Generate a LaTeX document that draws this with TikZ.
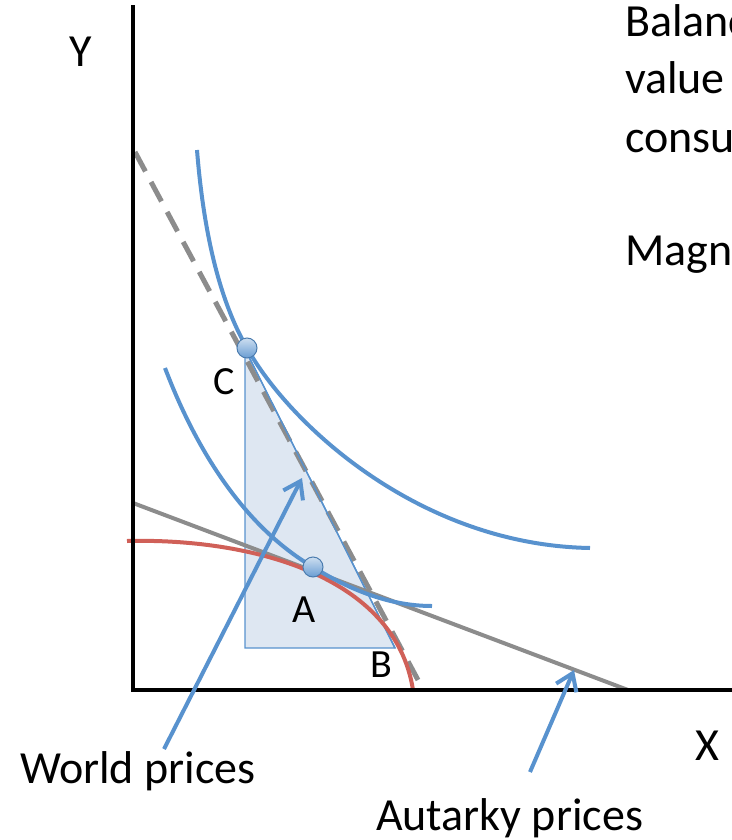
\documentclass[tikz,border=0pt]{standalone}
\usepackage{fontspec}
\setmainfont{Carlito}
\usetikzlibrary{arrows.meta}

\definecolor{icblue}{RGB}{88,146,206}
\definecolor{ppfred}{RGB}{208,96,88}
\definecolor{pricegray}{RGB}{140,140,140}
\definecolor{trifill}{RGB}{222,231,242}

\begin{document}
\begin{tikzpicture}[x=0.5pt,y=-0.5pt,>={Straight Barb[length=8pt,width=11pt]},
    axis/.style={line width=2.3pt,line cap=rect},
    indiff/.style={icblue,line width=2pt},
    pricebar/.style={pricegray,line width=2pt},
    pointer/.style={->,icblue,line width=2pt},
    ptball/.style={circle,inner sep=0pt,minimum size=10pt,draw=icblue!85!black,line width=0.5pt,
        top color=icblue!30!white,bottom color=icblue!90!white},
    biglbl/.style={font=\fontsize{23}{28}\selectfont},
    ptlbl/.style={font=\fontsize{20}{24}\selectfont},
    notetxt/.style={font=\fontsize{23}{28}\selectfont,anchor=base west}]
\useasboundingbox (0,0) rectangle (732,840);
\clip (0,0) rectangle (732,840);

% trade triangle
\coordinate (triC) at (245,349);
\coordinate (triO) at (245,648);
\coordinate (triB) at (395,648);
\filldraw[fill=trifill,draw=icblue,line width=0.7pt] (triC) -- (triO) -- (triB) -- cycle;

% world and autarky price lines
\draw[pricebar,line width=2.5pt,dash pattern=on 11pt off 6pt] (135,152) -- (418,680);
\draw[icblue,line width=0.7pt] (triC) -- (triB);
\draw[pricebar] (133,503) -- (628,690);

% production possibility frontier
\draw[ppfred,line width=2pt] (127,541) .. controls (250,538) and (395,575) .. (413,690);

% indifference curves
\draw[indiff] (165,368) .. controls (200,460) and (250,530) .. (313,567)
    .. controls (350,590) and (390,606) .. (432,606);
\draw[indiff] (197,150) .. controls (205,250) and (225,310) .. (247,348)
    .. controls (290,425) and (420,545) .. (590,548);

\node[ptball] (C) at (247,348) {};
\node[ptball] (A) at (313,567) {};

% axes
\draw[axis] (133,7) -- (133,690) -- (732,690);
\node[biglbl] (ylab) at (81,52) {Y};
\node[biglbl] (xlab) at (707,746) {X};

\node[ptlbl] (labC) at (224,382) {C};
\node[ptlbl] (labA) at (304,610) {A};
\node[ptlbl] (labB) at (381,665) {B};

% pointers
\node[biglbl,anchor=base west] (world) at (13,783) {World prices};
\node[biglbl,anchor=base west] (autarky) at (369,830) {Autarky prices};
\coordinate (wtail) at (164,749);
\coordinate (wtip) at (302,478);
\coordinate (atail) at (530,772);
\coordinate (atip) at (574,670);
\draw[pointer] (wtail) -- (wtip);
\draw[pointer] (atail) -- (atip);

% side note
\foreach \w/\y [count=\i] in {Balance/37,value/94,consumption/152,Magnitude/265}
    \node[notetxt] (note\i) at (618,\y) {\w};
\end{tikzpicture}
\end{document}
